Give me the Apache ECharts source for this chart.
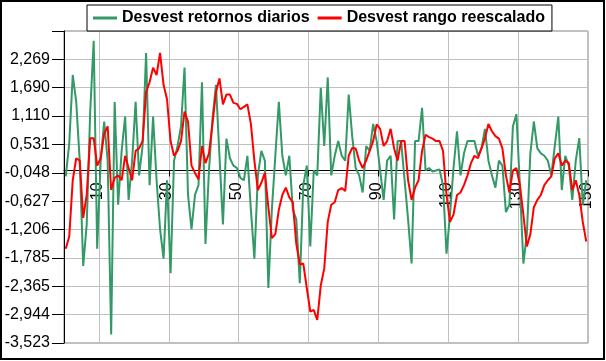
<!DOCTYPE html>
<html>
<head>
<meta charset="utf-8">
<script src="https://cdn.jsdelivr.net/npm/echarts@6/dist/echarts.min.js"></script>
<style>
html,body{margin:0;padding:0;background:#fff;}
#chart{width:606px;height:361px;}
</style>
</head>
<body>
<div id="chart"></div>
<script>
var categories = [1,2,3,4,5,6,7,8,9,10,11,12,13,14,15,16,17,18,19,20,21,22,23,24,25,26,27,28,29,30,31,32,33,34,35,36,37,38,39,40,41,42,43,44,45,46,47,48,49,50,51,52,53,54,55,56,57,58,59,60,61,62,63,64,65,66,67,68,69,70,71,72,73,74,75,76,77,78,79,80,81,82,83,84,85,86,87,88,89,90,91,92,93,94,95,96,97,98,99,100,101,102,103,104,105,106,107,108,109,110,111,112,113,114,115,116,117,118,119,120,121,122,123,124,125,126,127,128,129,130,131,132,133,134,135,136,137,138,139,140,141,142,143,144,145,146,147,148,149,150];

var seriesNames = ['Desvest retornos diarios', 'Desvest rango reescalado'];

var retornos = [
-0.12,0.55,1.95,1.4,0.2,-1.95,-1.1,1.2,2.65,-1.6,
0.2,1.0,0.2,-3.35,1.4,-0.7,0.4,1.1,-0.6,0.2,
1.4,-0.1,0.5,2.4,-0.3,1.1,-0.2,-1.2,-1.8,-0.2,
-2.1,0.2,0.5,0.9,2.1,-0.5,-1.2,-0.5,-0.3,1.8,
-1.5,0.0,1.05,1.75,0.3,-1.1,0.65,0.25,0.1,0.05,
-0.15,-0.2,0.3,-0.8,-1.8,-0.1,0.4,0.2,-2.4,-0.8,
0.3,1.4,0.3,-0.1,0.3,-0.8,-1.0,-2.3,-0.3,0.1,
-1.55,0.0,-0.1,1.69,0.5,1.9,-0.1,0.3,0.6,0.3,
0.2,1.55,0.7,0.05,-0.1,-0.45,0.5,0.4,0.95,0.6,
0.0,-0.6,0.2,0.3,-1.0,0.6,0.6,-0.2,-1.0,-1.9,
0.6,0.6,1.28,0.0,0.05,-0.02,0.0,0.02,-0.3,-1.7,
-0.9,0.05,0.8,-0.1,0.35,0.6,0.6,0.6,0.3,0.45,
0.85,0.2,-0.1,-0.35,0.2,0.1,-0.85,-0.7,0.9,1.15,
-0.3,-1.9,-1.3,0.35,1.0,0.45,0.35,0.3,0.2,-0.1,
0.5,1.1,-0.4,0.3,0.1,-0.6,0.2,0.66,-0.7,-0.2
];

var rango = [
-1.6,-1.35,-0.2,0.25,0.2,-0.97,-0.5,0.66,0.66,0.1,
0.25,0.75,0.9,-0.4,-0.15,-0.1,-0.2,0.3,0.05,-0.2,
0.4,0.45,0.6,1.6,1.8,2.1,1.95,2.4,1.75,1.45,
0.6,0.3,0.4,0.6,1.2,1.0,0.1,-0.05,-0.18,0.5,
0.15,0.35,0.95,1.6,1.88,1.35,1.55,1.55,1.38,1.36,
1.25,1.3,1.35,0.95,0.2,-0.4,-0.25,-0.05,-0.75,-1.38,
-1.3,-0.8,-0.5,-0.35,-0.55,-0.65,-1.5,-1.92,-1.9,-2.4,
-2.88,-2.85,-3.05,-2.35,-2.0,-1.05,-0.7,-0.65,-0.4,-0.36,
-0.42,0.3,0.46,0.45,0.2,0.05,0.2,0.4,0.6,0.94,
0.85,0.5,0.6,0.85,0.45,0.2,0.6,0.6,-0.2,-0.6,
-0.35,-0.2,0.4,0.73,0.68,0.65,0.6,0.6,0.4,-0.5,
-1.05,-0.9,-0.5,-0.45,-0.3,-0.1,0.15,0.3,0.25,0.45,
0.65,0.95,0.8,0.7,0.65,0.45,-0.1,-0.45,0.0,0.05,
-0.3,-0.9,-1.55,-1.3,-0.75,-0.6,-0.5,-0.3,-0.2,-0.12,
0.25,0.35,0.1,0.2,0.15,-0.4,-0.2,-0.5,-1.05,-1.45
];

var yMin = -3.523;
var yStep = 0.57918;
var yMax = yMin + 11 * yStep;

var GRID_TOP = 31, GRID_BOTTOM = 18, CHART_H = 361;
var plotH = CHART_H - GRID_TOP - GRID_BOTTOM;
// x axis crosses the value axis at 0
var xAxisOffset = -((0 - yMin) / (yMax - yMin)) * plotH;

var FONT = 'Liberation Sans, Arial, sans-serif';

var chart = echarts.init(document.getElementById('chart'), null, {renderer: 'canvas'});
chart.setOption({
  animation: false,
  backgroundColor: '#ffffff',
  graphic: [{
    type: 'rect',
    shape: {x: 1, y: 1, width: 603, height: 358},
    style: {fill: 'none', stroke: '#000', lineWidth: 2},
    silent: true,
    z: 100
  }],
  legend: {
    left: 87,
    top: 5,
    padding: [5, 7, 5, 6],
    itemGap: 8,
    itemWidth: 24,
    itemHeight: 3,
    icon: 'rect',
    borderColor: '#000',
    borderWidth: 1,
    backgroundColor: '#fff',
    textStyle: {fontFamily: FONT, fontSize: 16, fontWeight: 'bold', color: '#000', lineHeight: 16},
    data: seriesNames
  },
  grid: {
    left: 64, top: GRID_TOP, right: 18, bottom: GRID_BOTTOM,
    show: true, borderColor: '#808080', borderWidth: 1,
    containLabel: false,
    outerBoundsMode: 'none'
  },
  xAxis: {
    type: 'category',
    data: categories,
    boundaryGap: true,
    position: 'bottom',
    offset: xAxisOffset,
    axisLine: {onZero: false, lineStyle: {color: '#000', width: 1}},
    axisTick: {
      show: true, length: 6, lineStyle: {color: '#000'},
      interval: function (idx) { return idx % 20 === 10; }
    },
    axisLabel: {
      rotate: 90, margin: 12, fontFamily: FONT, fontSize: 16, color: '#000',
      interval: function (idx) { return idx % 20 === 9; }
    },
    splitLine: {
      show: true, lineStyle: {color: '#c0c0c0', width: 1},
      interval: function (idx) { return idx % 20 === 10; }
    }
  },
  yAxis: {
    type: 'value',
    min: yMin,
    max: yMax,
    interval: yStep,
    axisLine: {show: true, onZero: false, lineStyle: {color: '#000', width: 1}},
    axisTick: {show: true, length: 12, lineStyle: {color: '#000'}},
    axisLabel: {
      margin: 14, fontFamily: FONT, fontSize: 16, color: '#000',
      formatter: function (v) {
        if (v > yMax - yStep / 2) return '';
        return v.toFixed(3).replace('.', ',');
      }
    },
    splitLine: {show: true, lineStyle: {color: '#c0c0c0', width: 1}}
  },
  series: [{
    name: seriesNames[0],
    type: 'line',
    data: retornos,
    showSymbol: false,
    symbol: 'none',
    lineStyle: {color: '#339966', width: 2},
    itemStyle: {color: '#339966'},
    z: 2
  }, {
    name: seriesNames[1],
    type: 'line',
    data: rango,
    showSymbol: false,
    symbol: 'none',
    lineStyle: {color: '#ff0000', width: 2},
    itemStyle: {color: '#ff0000'},
    z: 3
  }]
});
</script>
</body>
</html>
